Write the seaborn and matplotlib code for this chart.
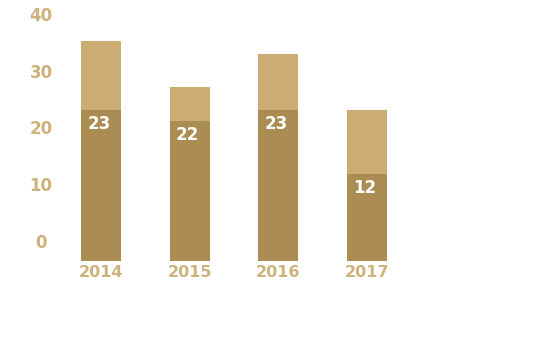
import matplotlib
matplotlib.use("Agg")
import matplotlib.pyplot as plt
import matplotlib.transforms as mtrans
import seaborn as sns
import pandas as pd
import numpy as np

years = ["2014", "2015", "2016", "2017"]
base_values = [26.6, 24.7, 26.6, 15.3]      # dark segment
total_values = [38.7, 30.6, 36.4, 26.6]     # full stacked height
bar_labels = ["23", "22", "23", "12"]
y_ticks = [0, 10, 20, 30, 40]
y_tick_labels = ["0", "10", "20", "30", "40"]

dark = "#ab8c53"
light = "#cbad74"
text_col = "#cdb27b"

sns.set_theme(style="white")
plt.rcParams["font.family"] = ["DejaVu Sans"]

fig = plt.figure(figsize=(5.34, 3.61), dpi=100)
ax = fig.add_axes([0, 100 / 361, 1, 247 / 361])

df = pd.DataFrame({"year": years, "base": base_values, "total": total_values})
sns.barplot(data=df, x="year", y="total", color=light, width=0.451,
            saturation=1, ax=ax, order=years, linewidth=0, edgecolor="none")
sns.barplot(data=df, x="year", y="base", color=dark, width=0.451,
            saturation=1, ax=ax, order=years, linewidth=0, edgecolor="none")

ax.set_xlim(-101 / 88.67, (534 - 101) / 88.67)
ax.set_ylim(0, 247 / 5.68)
for s in ax.spines.values():
    s.set_visible(False)
ax.set_xlabel("")
ax.set_ylabel("")

ax.set_yticks(y_ticks)
ax.set_yticklabels(y_tick_labels, fontsize=12, fontweight="bold", color=text_col)
ax.tick_params(axis="y", length=0, pad=0)
offset = mtrans.ScaledTranslation(41 / 100, 20 / 100, fig.dpi_scale_trans)
for lab in ax.get_yticklabels():
    lab.set_horizontalalignment("center")
    lab.set_transform(lab.get_transform() + offset)

ax.tick_params(axis="x", length=0, pad=3)
for lab in ax.get_xticklabels():
    lab.set_fontsize(11.5)
    lab.set_fontweight("bold")
    lab.set_color(text_col)

for i, (v, t) in enumerate(zip(base_values, bar_labels)):
    ax.annotate(t, (i, v), xytext=(-1.5, -10), textcoords="offset points",
                ha="center", va="center", color="white", fontsize=12,
                fontweight="bold")

fig.savefig("out.png", dpi=100, facecolor="white")
